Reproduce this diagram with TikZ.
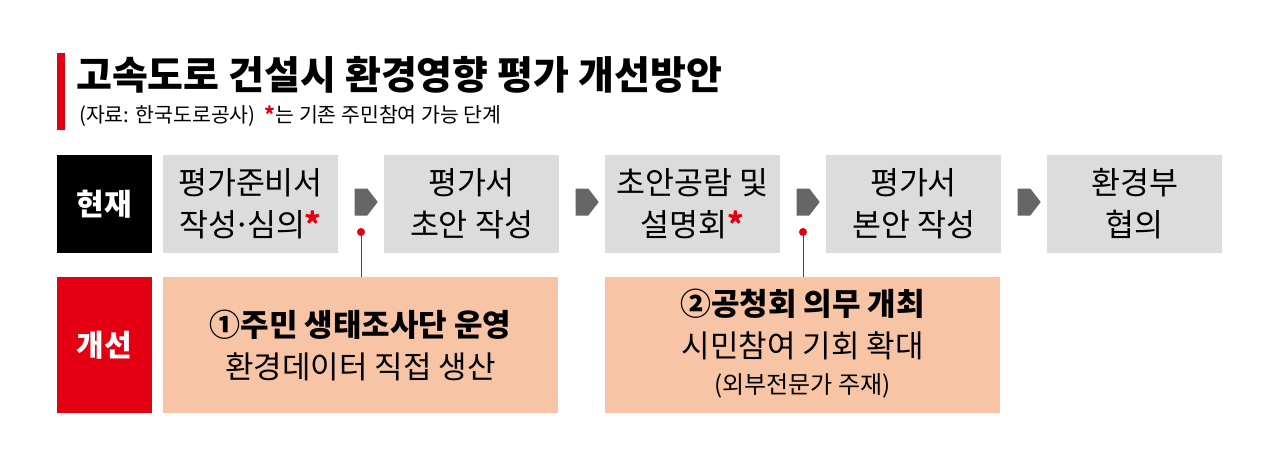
\documentclass[tikz,border=0pt]{standalone}
\usepackage{fontspec}
\setmainfont{Noto Sans CJK KR}
\usetikzlibrary{shapes.symbols}
\definecolor{stepgray}{HTML}{DCDCDC}
\definecolor{planpeach}{HTML}{F8C4A6}
\definecolor{markred}{HTML}{E40012}
\definecolor{arrowgray}{HTML}{666666}
\newcommand{\redstar}{{\color{markred}\bfseries *}}
\newcommand{\middot}{\kern-4pt·\kern-4pt}
\begin{document}
\begin{tikzpicture}[x=1pt, y=-1pt, every node/.style={inner sep=0pt, align=center, text=black}, stage/.style={fill=stepgray, minimum width=175pt, minimum height=98pt, font=\fontsize{31.5}{42}\selectfont}, rowlab/.style={minimum width=95pt, text=white, font=\bfseries\fontsize{30}{32}\selectfont}, plan/.style={fill=planpeach, minimum width=395pt, minimum height=136pt}, flow/.style={signal, signal to=east, fill=arrowgray, minimum width=23pt, minimum height=27pt, signal pointer angle=105}, pin/.style={circle, fill=markred, minimum size=8pt}]
	\useasboundingbox (0,0) rectangle (1280,466);
	\fill[markred] (57,53) rectangle (65,130);
	\node[anchor=west, font=\bfseries\fontsize{39}{42}\selectfont] (title) at (76,75) {고속도로 건설시 환경영향 평가 개선방안};
	\node[anchor=west, font=\fontsize{20.5}{23}\selectfont] (source) at (79,116) {(자료: 한국도로공사)\hspace{9pt}\redstar 는 기존 주민참여 가능 단계};
	\node[rowlab, fill=black, minimum height=98pt] (now) at (104.5,204) {현재};
	\node[rowlab, fill=markred, minimum height=136pt] (new) at (104.5,345) {개선};
	\node[stage] (s1) at (250.5,204) {평가준비서\\작성\middot 심의\redstar};
	\node[stage] (s2) at (471.5,204) {평가서\\초안 작성};
	\node[stage] (s3) at (692.5,204) {초안공람 및\\설명회\redstar};
	\node[stage] (s4) at (913.5,204) {평가서\\본안 작성};
	\node[stage] (s5) at (1134.5,204) {환경부\\협의};
	\node[flow] (f1) at (361,202) {};
	\node[flow] (f2) at (582,202) {};
	\node[flow] (f3) at (803,202) {};
	\node[flow] (f4) at (1024,202) {};
	\node[plan, font=\fontsize{31}{42}\selectfont] (p1) at (360.5,345) {{\bfseries ①주민 생태조사단 운영}\\환경데이터 직접 생산};
	\node[plan] (p2) at (802.5,345) {};
	\node[font=\bfseries\fontsize{31}{33}\selectfont] (p2a) at (802.5,304) {②공청회 의무 개최};
	\node[font=\fontsize{31}{33}\selectfont] (p2b) at (802.5,346) {시민참여 기회 확대};
	\node[font=\fontsize{24}{26}\selectfont] (p2c) at (802.5,386) {(외부전문가 주재)};
	\node[pin] (d1) at (361,232) {};
	\node[pin] (d2) at (803,232) {};
	\draw[markred, line width=1pt] (d1) -- (d1 |- p1.north);
	\draw[markred, line width=1pt] (d2) -- (d2 |- p2.north);
\end{tikzpicture}
\end{document}
